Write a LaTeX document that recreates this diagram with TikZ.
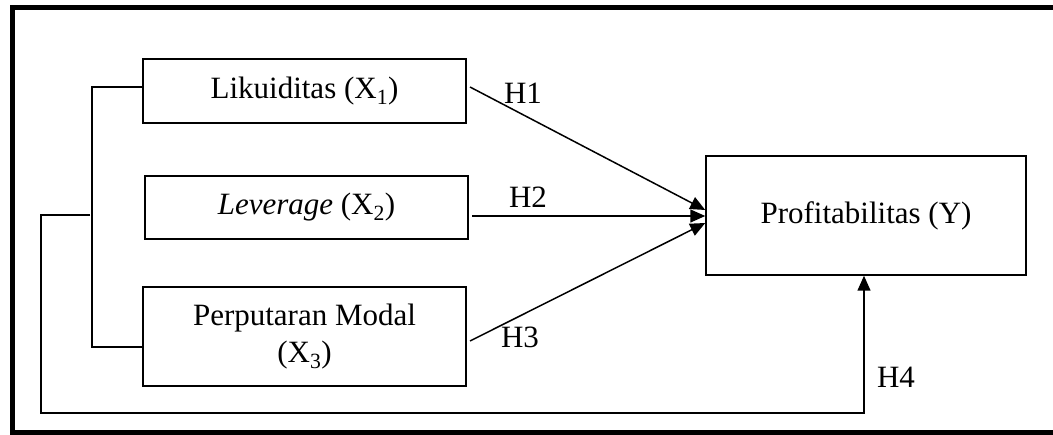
\documentclass[tikz,border=0pt]{standalone}
\usepackage{fontspec}
\setmainfont{Liberation Serif}
\usetikzlibrary{arrows.meta}
\tikzset{
  varbox/.style={draw=black, line width=1.5pt, align=center, inner sep=0pt},
  conn/.style={draw=black, line width=1.5pt},
  arr/.style={conn, -{Triangle[length=15pt,width=13pt]}},
  hlabel/.style={inner sep=0pt},
}
\begin{document}
\begin{tikzpicture}[x=1pt,y=-1pt, every node/.style={font=\fontsize{31}{37}\selectfont}]
\useasboundingbox (0,0) rectangle (1053,435);
% outer frame
\draw[line width=5pt] (1060,7.5) -- (12.5,7.5) -- (12.5,433) -- (1060,433);
% boxes
\node[varbox, minimum width=323pt, minimum height=64pt] (x1) at (304.5,91) {Likuiditas (X\textsubscript{1})};
\node[varbox, minimum width=323pt, minimum height=63pt] (x2) at (306.5,207.5) {\textit{Leverage} (X\textsubscript{2})};
\node[varbox, minimum width=323pt, minimum height=99pt] (x3) at (304.5,336.5) {Perputaran Modal\\(X\textsubscript{3})};
\node[varbox, minimum width=320pt, minimum height=119pt] (y) at (866,215.5) {Profitabilitas (Y)};
% bracket
\coordinate (b1) at (92,87);
\coordinate (b3) at (92,347);
\draw[conn] (x1.west |- b1) -- (b1) -- (b3) -- (x3.west |- b3);
\coordinate (c1) at (90,215);
\coordinate (c2) at (41,215);
\coordinate (c3) at (41,413);
\coordinate (c4) at (864,413);
\draw[arr] (c1) -- (c2) -- (c3) -- (c4) -- (c4 |- y.south);
% hypothesis arrows
\coordinate (s1) at (470,87);
\coordinate (s2) at (472,216);
\coordinate (s3) at (470,341);
\draw[arr] (s1) -- (y.west |- 0,210);
\draw[arr] (s2) -- (y.west |- 0,216);
\draw[arr] (s3) -- (y.west |- 0,223);
% labels
\node[hlabel] (h1) at (523,93) {H1};
\node[hlabel] (h2) at (528,197) {H2};
\node[hlabel] (h3) at (520,337) {H3};
\node[hlabel] (h4) at (896,377) {H4};
\end{tikzpicture}
\end{document}
